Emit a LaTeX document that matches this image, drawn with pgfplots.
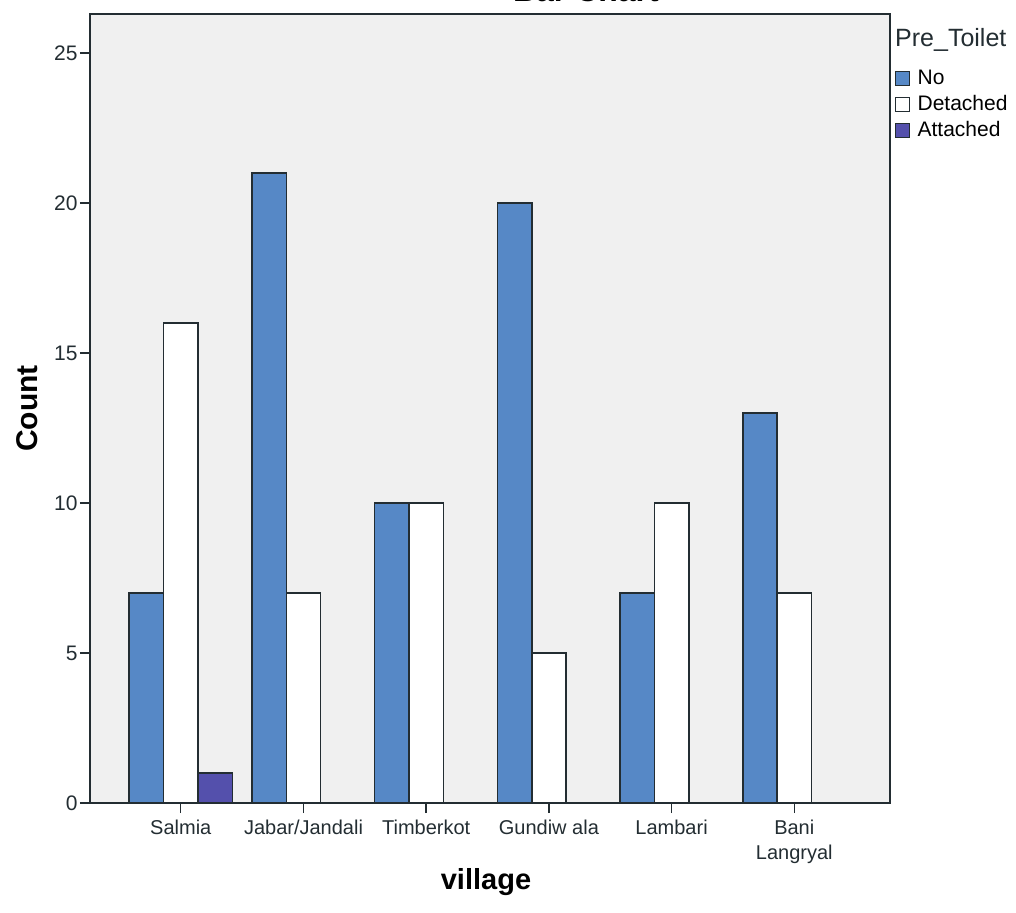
\documentclass[border=0pt]{standalone}
\usepackage{pgfplots}
\pgfplotsset{compat=1.18}
\usepackage{fontspec}
\setmainfont{Liberation Sans}
\definecolor{nocol}{RGB}{86,136,198}
\definecolor{attcol}{RGB}{84,80,172}
\definecolor{bgcol}{RGB}{240,240,240}
\definecolor{axcol}{RGB}{35,45,50}
\begin{document}
\begin{tikzpicture}
\begin{axis}[
  scale only axis,
  width=400pt, height=394.5pt,
  xmin=-0.74, xmax=5.78,
  ymin=0, ymax=26.3,
  axis background/.style={fill=bgcol},
  axis line style={axcol, line width=1pt},
  ybar, bar width=0.28,
  xtick={0,1,2,3,4,5},
  xticklabels={Salmia, Jabar/Jandali, Timberkot, Gundiw ala, Lambari, {Bani\\Langryal}},
  xticklabel style={align=center, font=\fontsize{10}{12.5}\selectfont, text=axcol},
  ytick={0,5,10,15,20,25},
  yticklabel style={font=\fontsize{10.5}{12}\selectfont, text=axcol, inner xsep=1pt},
  /pgf/number format/assume math mode=true,
  tick align=outside,
  major tick length=5pt,
  tick style={axcol, line width=0.7pt},
  xtick pos=bottom, ytick pos=left,
  xlabel={\textbf{village}},
  ylabel={\textbf{Count}},
  xlabel style={font=\fontsize{14.5}{15}\selectfont, at={(0.495,0)}, anchor=center, yshift=-39.5pt},
  ylabel style={font=\fontsize{15}{16}\selectfont, at={(0,0.5)}, anchor=center, yshift=31.5pt},
  legend style={at={(1.004,0.935)}, anchor=north west, draw=none, fill=none,
     font=\fontsize{10.5}{12}\selectfont, row sep=0pt, inner sep=0pt,
     nodes={text height=8pt, text depth=2.5pt, inner ysep=1.25pt, inner xsep=1.5pt}},
  legend cell align=left,
  legend image code/.code={\path[draw=none, fill=none] (0pt,0pt) -- (10.5pt,0pt);\draw[#1, line width=0.6pt] (1pt,-3.5pt) rectangle (8pt,3.5pt);},
  clip=false,
]
\addplot[fill=nocol, draw=axcol, line width=0.8pt, bar shift=-0.28] coordinates {(0,7) (1,21) (2,10) (3,20) (4,7) (5,13)};
\addplot[fill=white, draw=axcol, line width=0.8pt, bar shift=0] coordinates {(0,16) (1,7) (2,10) (3,5) (4,10) (5,7)};
\addplot[fill=attcol, draw=axcol, line width=0.8pt, bar shift=0.28] coordinates {(0,1)};
\legend{No, Detached, Attached}
\node[anchor=west, font=\fontsize{12.5}{13}\selectfont, text=axcol, inner sep=0pt] at (rel axis cs:1.006,0.967) {Pre\_Toilet};
\node[anchor=base, font=\fontsize{16}{17}\selectfont\bfseries, inner sep=0pt] at ([yshift=6pt]rel axis cs:0.62,1) {Bar Chart};
\end{axis}
\pgfresetboundingbox
\path[use as bounding box] ([xshift=-45pt,yshift=-54.5pt]current axis.south west) rectangle ([xshift=63pt,yshift=7pt]current axis.north east);
\end{tikzpicture}
\end{document}
